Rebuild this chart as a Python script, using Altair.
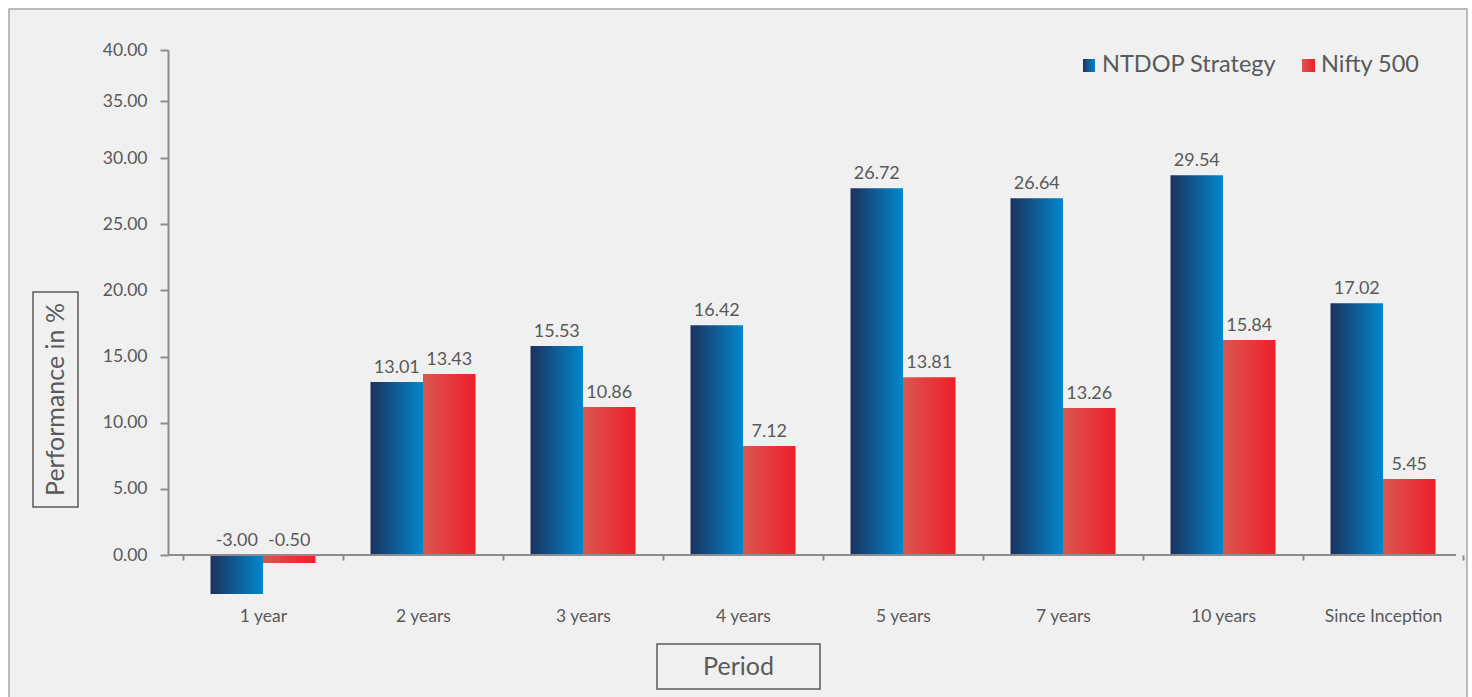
import altair as alt
import pandas as pd

# ---- data ----
periods = ["1 year", "2 years", "3 years", "4 years", "5 years", "7 years", "10 years", "Since Inception"]
series_names = ["NTDOP Strategy", "Nifty 500"]
ntdop_values = [-2.95, 13.07, 15.79, 17.37, 27.72, 26.96, 28.70, 19.03]
nifty_values = [-0.60, 13.67, 11.18, 8.23, 13.44, 11.10, 16.24, 5.74]
ntdop_labels = ["-3.00", "13.01", "15.53", "16.42", "26.72", "26.64", "29.54", "17.02"]
nifty_labels = ["-0.50", "13.43", "10.86", "7.12", "13.81", "13.26", "15.84", "5.45"]
y_ticks = [0, 5, 10, 15, 20, 25, 30, 35, 40]

rows = []
for p, v, l in zip(periods, ntdop_values, ntdop_labels):
    rows.append({"period": p, "series": series_names[0], "value": v, "label": l})
for p, v, l in zip(periods, nifty_values, nifty_labels):
    rows.append({"period": p, "series": series_names[1], "value": v, "label": l})
df = pd.DataFrame(rows)
df["labelpos"] = df["value"].clip(lower=0)

FONT = "Lato"
TXT = "#595959"
AXC = "#8c8c8c"

# layout (page pixels)
LEFT, TOP = 183, 50
W, H = 1280, 505


def px(ax):
    """page x -> plot-relative x for decorations"""
    return ax - LEFT


def py(ay):
    return ay - TOP


blue_grad = alt.LinearGradient(gradient="linear", stops=[
    alt.GradientStop(offset=0, color="#1d3160"),
    alt.GradientStop(offset=1, color="#0088cc")])
red_grad = alt.LinearGradient(gradient="linear", stops=[
    alt.GradientStop(offset=0, color="#d95751"),
    alt.GradientStop(offset=1, color="#ee1f27")])

yscale = alt.Scale(domain=[0, 30, 35, 40], range=[505, 108, 51, 0], nice=False, zero=False)
xenc = alt.X("period:N", sort=periods, scale=alt.Scale(paddingInner=0, paddingOuter=0),
             axis=alt.Axis(title=None, tickBand="extent", domain=False, tickSize=5, zindex=1,
                           tickColor=AXC, tickWidth=2, labelPadding=47, labelFontSize=17.5,
                           labelFont=FONT, labelColor=TXT, labelAngle=0))
xoff = alt.XOffset("series:N", scale=alt.Scale(domain=series_names, paddingInner=0, paddingOuter=0.524))
yaxis = alt.Axis(title=None, values=y_ticks, format=".2f", grid=False, offset=LEFT - 168, zindex=1,
                 domainColor=AXC, domainWidth=2, tickColor=AXC, tickWidth=2, tickSize=8,
                 labelPadding=13, labelFontSize=17.5, labelFont=FONT, labelColor=TXT)

base = alt.Chart(df)

blue_bars = base.transform_filter(alt.datum.series == series_names[0]).mark_bar(fill=blue_grad).encode(
    x=xenc, xOffset=xoff, y=alt.Y("value:Q", scale=yscale, axis=yaxis), y2=alt.datum(0))
red_bars = base.transform_filter(alt.datum.series == series_names[1]).mark_bar(fill=red_grad).encode(
    x=xenc, xOffset=xoff, y=alt.Y("value:Q", scale=yscale, axis=yaxis), y2=alt.datum(0))

labels = base.mark_text(baseline="bottom", dy=-5, fontSize=18, font=FONT, color=TXT).encode(
    x=xenc, xOffset=xoff, y=alt.Y("labelpos:Q", scale=yscale, axis=yaxis), text="label:N")

zero_line = alt.Chart(pd.DataFrame({"z": [0]})).mark_rule(color=AXC, strokeWidth=2).encode(
    y=alt.Y("z:Q", scale=yscale, axis=yaxis), x=alt.value(px(168)), x2=alt.value(px(1456)))

one = alt.Data(values=[{}])

frame = alt.Chart(one).mark_rect(fill="#f0f0f0", stroke="#a6a6a6", strokeWidth=1.5).encode(
    x=alt.value(px(9)), x2=alt.value(px(1467)), y=alt.value(py(9)), y2=alt.value(py(750)))

ybox = alt.Chart(one).mark_rect(fillOpacity=0, stroke=TXT, strokeWidth=1.5).encode(
    x=alt.value(px(33)), x2=alt.value(px(78)), y=alt.value(py(292)), y2=alt.value(py(507)))
ytitle = alt.Chart(one).mark_text(text="Performance in %", angle=270, align="center", baseline="middle",
                                  fontSize=25, font=FONT, color=TXT).encode(
    x=alt.value(px(55.5)), y=alt.value(py(399.5)))

xbox = alt.Chart(one).mark_rect(fillOpacity=0, stroke=TXT, strokeWidth=1.5).encode(
    x=alt.value(px(657)), x2=alt.value(px(820)), y=alt.value(py(644)), y2=alt.value(py(689)))
xtitle = alt.Chart(one).mark_text(text="Period", align="center", baseline="middle",
                                  fontSize=25, font=FONT, color=TXT).encode(
    x=alt.value(px(738.5)), y=alt.value(py(666.5)))

leg_blue = alt.Chart(one).mark_rect(fill=blue_grad).encode(
    x=alt.value(px(1083)), x2=alt.value(px(1095)), y=alt.value(py(59)), y2=alt.value(py(72)))
leg_red = alt.Chart(one).mark_rect(fill=red_grad).encode(
    x=alt.value(px(1302)), x2=alt.value(px(1315)), y=alt.value(py(59)), y2=alt.value(py(72)))
leg_t1 = alt.Chart(one).mark_text(text=series_names[0], align="left", baseline="alphabetic",
                                  fontSize=23.5, font=FONT, color=TXT).encode(
    x=alt.value(px(1102)), y=alt.value(py(72)))
leg_t2 = alt.Chart(one).mark_text(text=series_names[1], align="left", baseline="alphabetic",
                                  fontSize=23.5, font=FONT, color=TXT).encode(
    x=alt.value(px(1321)), y=alt.value(py(72)))

chart = alt.layer(
    frame, blue_bars, red_bars, labels, zero_line,
    ybox, ytitle, xbox, xtitle, leg_blue, leg_red, leg_t1, leg_t2
).properties(
    width=W, height=H,
    autosize=alt.AutoSizeParams(type="none"),
    padding={"left": LEFT, "top": TOP, "right": 1472 - LEFT - W, "bottom": 697 - TOP - H},
    background="white",
).configure_view(stroke=None)

chart.save("out.html", embed_options={"renderer": "svg", "actions": False})
